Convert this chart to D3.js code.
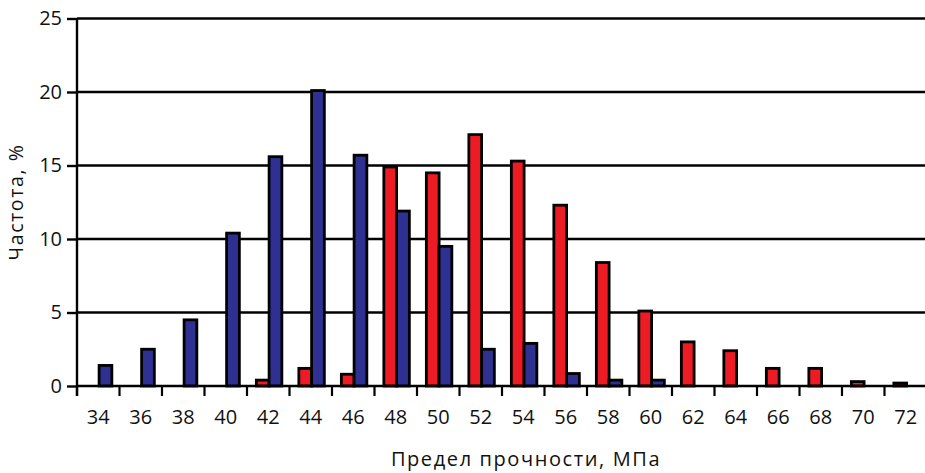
<!DOCTYPE html>
<html>
<head>
<meta charset="utf-8">
<script src="https://cdn.jsdelivr.net/npm/d3@7"></script>
<style>
  html, body { margin: 0; padding: 0; background: #fff; }
  svg { display: block; font-family: "Open Sans", "Noto Sans", sans-serif; }
</style>
</head>
<body>
<svg id="chart" width="925" height="473"></svg>
<script>
// Strength classes, MPa
const categories = ['34','36','38','40','42','44','46','48','50','52','54','56','58','60','62','64','66','68','70','72'];
// Frequency, % (red series)
const seriesRed  = [0, 0, 0, 0, 0.4, 1.2, 0.8, 14.9, 14.5, 17.1, 15.3, 12.3, 8.4, 5.1, 3.0, 2.4, 1.2, 1.2, 0.3, 0.2];
// Frequency, % (blue series)
const seriesBlue = [1.4, 2.5, 4.5, 10.4, 15.6, 20.1, 15.7, 11.9, 9.5, 2.5, 2.9, 0.85, 0.4, 0.4, 0, 0, 0, 0, 0, 0];
const yTicks = [0, 5, 10, 15, 20, 25];
const seriesNames = ['red', 'blue'];
const colors = { red: '#ED1C24', blue: '#2E3192' };

const margin = { top: 18.5, left: 77, bottom: 87, right: -2 };
const W = 925, H = 473;
const svg = d3.select('#chart');
const innerW = W - margin.left - margin.right;
const innerH = H - margin.top - margin.bottom;

const g = svg.append('g').attr('transform', `translate(${margin.left},${margin.top})`);

const x = d3.scaleBand().domain(categories).range([0, innerW]).paddingInner(0).paddingOuter(0);
const xInner = d3.scaleBand().domain(seriesNames)
  .range([x.bandwidth() * 0.22, x.bandwidth() * 0.22 + 25.5]);
const y = d3.scaleLinear().domain([0, 25]).range([innerH, 0]);

// horizontal gridlines
g.append('g')
  .selectAll('line').data(yTicks.filter(t => t > 0)).join('line')
  .attr('x1', 0).attr('x2', innerW)
  .attr('y1', d => y(d)).attr('y2', d => y(d))
  .attr('stroke', '#000').attr('stroke-width', 2.4);

// bars
const rows = categories.map((c, i) => ({ cat: c, red: seriesRed[i], blue: seriesBlue[i] }));
const groups = g.append('g').selectAll('g').data(rows).join('g')
  .attr('transform', d => `translate(${x(d.cat)},0)`);
groups.selectAll('rect')
  .data(d => seriesNames.map(k => ({ key: k, value: d[k] })).filter(v => v.value > 0))
  .join('rect')
  .attr('x', d => xInner(d.key))
  .attr('width', xInner.bandwidth())
  .attr('y', d => y(d.value))
  .attr('height', d => y(0) - y(d.value))
  .attr('fill', d => colors[d.key])
  .attr('stroke', '#000')
  .attr('stroke-width', 2.8);

// x axis: ticks on category boundaries, labels centred in each band
const xAxisG = g.append('g').attr('transform', `translate(0,${innerH})`);
xAxisG.append('line').attr('x1', 0).attr('x2', innerW).attr('y1', 0).attr('y2', 0)
  .attr('stroke', '#000').attr('stroke-width', 2.6);
xAxisG.selectAll('line.tick').data(categories).join('line')
  .attr('class', 'tick')
  .attr('x1', d => x(d)).attr('x2', d => x(d))
  .attr('y1', 0).attr('y2', 10)
  .attr('stroke', '#000').attr('stroke-width', 2.2);
xAxisG.selectAll('text').data(categories).join('text')
  .attr('x', d => x(d) + x.bandwidth() / 2)
  .attr('y', 38)
  .attr('text-anchor', 'middle')
  .attr('font-size', 20)
  .attr('fill', '#111')
  .text(d => d);

// y axis
const yAxis = d3.axisLeft(y).tickValues(yTicks).tickSize(10).tickPadding(5).tickFormat(d3.format('d'));
const yAxisG = g.append('g').call(yAxis);
yAxisG.select('.domain').remove();
yAxisG.selectAll('.tick line').attr('stroke', '#000').attr('stroke-width', 2.4);
yAxisG.selectAll('.tick text').attr('font-size', 20).attr('fill', '#111')
  .attr('font-family', '"Open Sans", "Noto Sans", sans-serif');
g.append('line').attr('x1', 0).attr('x2', 0).attr('y1', 0).attr('y2', innerH + 10)
  .attr('stroke', '#000').attr('stroke-width', 2.4);

// axis titles
svg.append('text')
  .attr('transform', `translate(23,202) rotate(-90)`)
  .attr('text-anchor', 'middle')
  .attr('font-size', 19.5)
  .attr('letter-spacing', 1.6)
  .attr('fill', '#111')
  .text('Частота, %');
svg.append('text')
  .attr('x', 526).attr('y', 466)
  .attr('text-anchor', 'middle')
  .attr('font-size', 20)
  .attr('letter-spacing', 1.6)
  .attr('fill', '#111')
  .text('Предел прочности, МПа');
</script>
</body>
</html>
